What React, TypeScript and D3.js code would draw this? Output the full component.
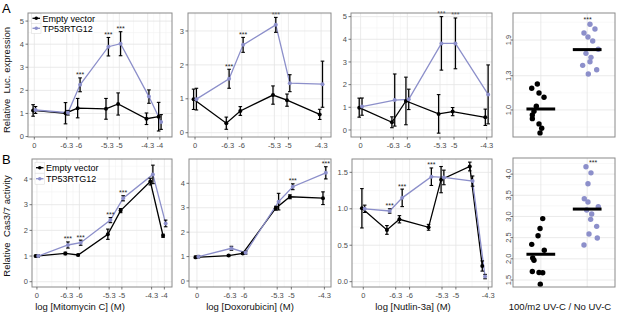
import React from "react";
import * as d3 from "d3";

// ---------------- data ----------------
const seriesNames = ["Empty vector", "TP53RTG12"];
const seriesColors = ["#000000", "#8c8fca"];

const doseTickValues = [0, -6.3, -6, -5.3, -5, -4.3, -4];
const doseTickLabels = ["0", "-6.3", "-6", "-5.3", "-5", "-4.3", "-4"];

const xTitles = ["log [Mitomycin C] (M)", "log [Doxorubicin] (M)", "log [Nutlin-3a] (M)", "100/m2 UV-C / No UV-C"];
const yTitles = ["Relative  Luc. expression", "Relative  Cas3/7 activity"];
const panelLetters = ["A", "B"];

// A1 Mitomycin C / luciferase
const mitoLucDoses = [0, -6.3, -6, -5.3, -5, -4.3, -4];
const mitoLucEmpty = [1.13, 1.01, 1.23, 1.2, 1.41, 0.77, 0.86];
const mitoLucEmptyErr = [0.25, 0.46, 0.42, 0.45, 0.48, 0.25, 0.62];
const mitoLucRtg = [1.15, 1.03, 2.24, 3.89, 4.02, 1.73, 0.63];
const mitoLucRtgErr = [0.15, 0.1, 0.3, 0.4, 0.52, 0.29, 0.32];
const mitoLucSig = ["", "", "***", "***", "***", "", ""];

// A2 Doxorubicin / luciferase
const doxoLucDoses = [0, -6.3, -6, -5.3, -5, -4.3];
const doxoLucEmpty = [0.985, 0.28, 0.64, 1.11, 0.96, 0.54];
const doxoLucEmptyErr = [0.3, 0.18, 0.13, 0.27, 0.18, 0.15];
const doxoLucRtg = [0.99, 1.59, 2.59, 3.18, 1.46, 1.43];
const doxoLucRtgErr = [0.32, 0.28, 0.22, 0.22, 0.25, 0.68];
const doxoLucSig = ["", "***", "***", "***", "", ""];

// A3 Nutlin-3a / luciferase
const nutLucDoses = [0, -6.3, -6, -5.3, -5, -4.3];
const nutLucEmpty = [0.985, 0.34, 1.28, 0.71, 0.81, 0.56];
const nutLucEmptyErr = [0.42, 0.24, 1.05, 0.85, 0.18, 0.36];
const nutLucRtg = [1.03, 1.32, 1.35, 3.82, 3.82, 1.57];
const nutLucRtgErr = [0.38, 1.15, 0.45, 1.18, 1.12, 1.3];
const nutLucSig = ["", "", "", "***", "***", ""];

// A4 UV-C / luciferase (jitter + mean)
const uvLucEmpty = [1.19, 1.227, 1.149, 1.111, 1.032, 0.989, 0.956, 0.924, 0.878, 0.84, 0.799];
const uvLucEmptyJitter = [-0.196, -0.075, -0.039, 0.069, -0.097, -0.147, -0.183, -0.183, -0.039, 0.019, -0.017];
const uvLucRtg = [2.164, 2.085, 2.018, 1.95, 1.883, 1.744, 1.676, 1.609, 1.535, 1.475, 1.401, 1.329];
const uvLucRtgJitter = [0.06, 0.168, -0.069, 0.017, 0.119, 0.239, -0.026, 0.082, 0.06, -0.097, 0.205, 0.024];
const uvLucTicks = [1.0, 1.3, 1.9];

// B1 Mitomycin C / caspase
const mitoCasDoses = [0, -6.3, -6, -5.3, -5, -4.3, -4];
const mitoCasEmpty = [1.0, 1.1, 1.04, 1.85, 2.77, 3.9, 1.79];
const mitoCasEmptyErr = [0.03, 0.05, 0.03, 0.2, 0.08, 0.13, 0.06];
const mitoCasRtg = [1.0, 1.43, 1.52, 2.4, 3.25, 4.18, 2.27];
const mitoCasRtgErr = [0.04, 0.12, 0.1, 0.1, 0.1, 0.36, 0.13];
const mitoCasSig = ["", "***", "***", "***", "***", "", ""];

// B2 Doxorubicin / caspase
const doxoCasDoses = [0, -6.3, -6, -5.3, -5, -4.3];
const doxoCasEmpty = [0.97, 1.04, 1.13, 2.98, 3.45, 3.39];
const doxoCasEmptyErr = [0.05, 0.03, 0.04, 0.08, 0.08, 0.26];
const doxoCasRtg = [0.995, 1.34, 1.16, 3.25, 3.86, 4.43];
const doxoCasRtgErr = [0.05, 0.08, 0.06, 0.34, 0.12, 0.25];
const doxoCasSig = ["", "", "", "", "***", "***"];

// B3 Nutlin-3a / caspase
const nutCasDoses = [0, -6.46, -6.19, -5.56, -5.29, -4.67, -4.4];
const nutCasEmpty = [1.007, 0.71, 0.856, 0.746, 1.4, 1.58, 0.215];
const nutCasEmptyErr = [0.27, 0.06, 0.05, 0.04, 0.18, 0.06, 0.07];
const nutCasRtg = [1.0, 0.97, 1.15, 1.44, 1.43, 1.38, 0.07];
const nutCasRtgErr = [0.05, 0.03, 0.12, 0.12, 0.1, 0.07, 0.03];
const nutCasSig = ["", "***", "***", "***", "", "", ""];

// B4 UV-C / caspase
const uvCasEmpty = [2.95, 2.715, 2.545, 2.342, 2.203, 2.019, 1.967, 1.7, 1.677, 1.67, 1.4];
const uvCasEmptyJitter = [0.041, -0.017, -0.06, -0.196, 0.075, -0.175, -0.147, -0.183, -0.039, 0.041, -0.011];
const uvCasRtg = [4.172, 4.03, 3.771, 3.417, 3.34, 3.229, 3.151, 3.057, 2.932, 2.767, 2.585, 2.491, 2.325];
const uvCasRtgJitter = [-0.026, 0.082, 0.017, -0.062, 0.017, 0.239, -0.011, 0.097, 0.075, 0.205, 0.039, 0.218, -0.069];
const uvCasTicks = [1.5, 2.0, 2.5, 3.0, 3.5, 4.0];

// ---------------- styles / layout ----------------
const FONT = "'Liberation Sans', Arial, Helvetica, sans-serif";
const GRID_MAJOR = "#e5e5e5";
const GRID_MINOR = "#f3f3f3";
const BORDER = "#8a8a8a";
const TICK_TEXT = "#4d4d4d";
const DODGE = 0.03;

const linePanels = [
  { key: "A1", x0: 28, x1: 172, y0: 13, y1: 137, xDomain: [-7.256, -3.7], ctrl: -7.1, nTicks: 7,
    yDomain: [-0.02, 5.35], yTicks: [0, 1, 2, 3, 4, 5], yFmt: (v: number) => String(v),
    doses: mitoLucDoses, empty: mitoLucEmpty, emptyErr: mitoLucEmptyErr, rtg: mitoLucRtg, rtgErr: mitoLucRtgErr, sig: mitoLucSig,
    legend: { x: 31.5, y: 18.3, pitch: 10 } },
  { key: "A2", x0: 188, x1: 331, y0: 13, y1: 137, xDomain: [-7.15, -4.088], ctrl: -7.0, nTicks: 6,
    yDomain: [-0.127, 3.53], yTicks: [0, 1, 2, 3], yFmt: (v: number) => String(v),
    doses: doxoLucDoses, empty: doxoLucEmpty, emptyErr: doxoLucEmptyErr, rtg: doxoLucRtg, rtgErr: doxoLucRtgErr, sig: doxoLucSig },
  { key: "A3", x0: 351, x1: 492, y0: 13, y1: 137, xDomain: [-7.206, -4.187], ctrl: -7.0, nTicks: 6,
    yDomain: [-0.31, 5.16], yTicks: [0, 1, 2, 3, 4, 5], yFmt: (v: number) => String(v),
    doses: nutLucDoses, empty: nutLucEmpty, emptyErr: nutLucEmptyErr, rtg: nutLucRtg, rtgErr: nutLucRtgErr, sig: nutLucSig },
  { key: "B1", x0: 32, x1: 172, y0: 159, y1: 287, xDomain: [-7.116, -3.82], ctrl: -7.0, nTicks: 7,
    yDomain: [-0.206, 4.78], yTicks: [0, 1, 2, 3, 4], yFmt: (v: number) => String(v),
    doses: mitoCasDoses, empty: mitoCasEmpty, emptyErr: mitoCasEmptyErr, rtg: mitoCasRtg, rtgErr: mitoCasRtgErr, sig: mitoCasSig,
    legend: { x: 35, y: 167.7, pitch: 11 } },
  { key: "B2", x0: 189, x1: 331, y0: 159, y1: 287, xDomain: [-7.169, -4.16], ctrl: -7.0, nTicks: 6,
    yDomain: [-0.246, 4.996], yTicks: [0, 1, 2, 3, 4], yFmt: (v: number) => String(v),
    doses: doxoCasDoses, empty: doxoCasEmpty, emptyErr: doxoCasEmptyErr, rtg: doxoCasRtg, rtgErr: doxoCasRtgErr, sig: doxoCasSig },
  { key: "B3", x0: 352, x1: 492, y0: 159, y1: 287, xDomain: [-7.244, -4.22], ctrl: -7.0, nTicks: 6,
    yDomain: [-0.073, 1.683], yTicks: [0, 0.5, 1, 1.5], yFmt: (v: number) => v.toFixed(1),
    doses: nutCasDoses, empty: nutCasEmpty, emptyErr: nutCasEmptyErr, rtg: nutCasRtg, rtgErr: nutCasRtgErr, sig: nutCasSig },
];

const jitterPanels = [
  { key: "A4", x0: 513, x1: 615, y0: 13, y1: 137, yDomain: uvLucTicks, yFrac: [0.218, 0.494, 0.782],
    yTicks: uvLucTicks, empty: uvLucEmpty, emptyJit: uvLucEmptyJitter, rtg: uvLucRtg, rtgJit: uvLucRtgJitter, starDx: 0.01 },
  { key: "B4", x0: 513, x1: 615, y0: 158, y1: 287, yDomain: [1.335, 4.38], yFrac: [0, 1],
    yTicks: uvCasTicks, empty: uvCasEmpty, emptyJit: uvCasEmptyJitter, rtg: uvCasRtg, rtgJit: uvCasRtgJitter, starDx: 0.13 },
];

const xTitlePos = [{ x: 80, y: 309.5 }, { x: 250, y: 309.5 }, { x: 413, y: 309.5 }, { x: 560, y: 309.5 }];
const yTitlePos = [{ x: 10, y: 80 }, { x: 10, y: 226 }];
const letterPos = [{ x: 2, y: 13 }, { x: 2, y: 163.5 }];

function minorBreaks(major: number[], lo: number, hi: number) {
  const s = [...major].sort((a, b) => a - b);
  const out: number[] = [];
  for (let i = 0; i < s.length - 1; i++) out.push((s[i] + s[i + 1]) / 2);
  if (s.length > 1) {
    const first = s[0] - (s[1] - s[0]) / 2;
    const last = s[s.length - 1] + (s[s.length - 1] - s[s.length - 2]) / 2;
    if (first >= Math.min(lo, hi)) out.push(first);
    if (last <= Math.max(lo, hi)) out.push(last);
  }
  return out;
}

function LinePanel({ p }: { p: any }) {
  const x = d3.scaleLinear().domain(p.xDomain).range([p.x0, p.x1]);
  const y = d3.scaleLinear().domain(p.yDomain).range([p.y1, p.y0]);
  const xv = (d: number) => (d === 0 ? p.ctrl : d);
  const tickVals = doseTickValues.slice(0, p.nTicks).map(xv);
  const tickLabs = doseTickLabels.slice(0, p.nTicks);
  const xMinor = minorBreaks(tickVals, p.xDomain[0], p.xDomain[1]);
  const yMinor = minorBreaks(p.yTicks, p.yDomain[0], p.yDomain[1]);
  const series = [
    { vals: p.empty, errs: p.emptyErr, color: seriesColors[0], dx: -DODGE },
    { vals: p.rtg, errs: p.rtgErr, color: seriesColors[1], dx: DODGE },
  ];
  const line = d3.line<[number, number]>().x((d) => d[0]).y((d) => d[1]);
  const cap = 1.8;
  return (
    <g>
      <rect x={p.x0} y={p.y0} width={p.x1 - p.x0} height={p.y1 - p.y0} fill="#fff" />
      {xMinor.map((v, i) => (
        <line key={"xm" + i} x1={x(v)} x2={x(v)} y1={p.y0} y2={p.y1} stroke={GRID_MINOR} strokeWidth={0.6} />
      ))}
      {yMinor.map((v, i) => (
        <line key={"ym" + i} x1={p.x0} x2={p.x1} y1={y(v)} y2={y(v)} stroke={GRID_MINOR} strokeWidth={0.6} />
      ))}
      {tickVals.map((v, i) => (
        <line key={"xg" + i} x1={x(v)} x2={x(v)} y1={p.y0} y2={p.y1} stroke={GRID_MAJOR} strokeWidth={0.8} />
      ))}
      {p.yTicks.map((v: number, i: number) => (
        <line key={"yg" + i} x1={p.x0} x2={p.x1} y1={y(v)} y2={y(v)} stroke={GRID_MAJOR} strokeWidth={0.8} />
      ))}
      {series.map((s, si) => {
        const pts: [number, number][] = p.doses.map((d: number, i: number) => [x(xv(d) + s.dx), y(s.vals[i])]);
        return (
          <g key={"s" + si}>
            <path d={line(pts) || ""} fill="none" stroke={s.color} strokeWidth={1.3} />
          </g>
        );
      })}
      {series.map((s, si) => (
        <g key={"e" + si}>
          {p.doses.map((d: number, i: number) => {
            const cx = x(xv(d) + s.dx);
            const yt = y(s.vals[i] + s.errs[i]);
            const yb = y(s.vals[i] - s.errs[i]);
            return (
              <g key={i}>
                <line x1={cx} x2={cx} y1={yt} y2={yb} stroke="#000" strokeWidth={1.3} />
                <line x1={cx - cap} x2={cx + cap} y1={yt} y2={yt} stroke="#000" strokeWidth={1.1} />
                <line x1={cx - cap} x2={cx + cap} y1={yb} y2={yb} stroke="#000" strokeWidth={1.1} />
              </g>
            );
          })}
        </g>
      ))}
      {series.map((s, si) => (
        <g key={"p" + si}>
          {p.doses.map((d: number, i: number) => (
            <circle key={i} cx={x(xv(d) + s.dx)} cy={y(s.vals[i])} r={2} fill={s.color} />
          ))}
        </g>
      ))}
      {p.sig.map((t: string, i: number) =>
        t ? (
          <text key={"sig" + i} x={x(xv(p.doses[i]) + DODGE)} y={y(p.rtg[i] + p.rtgErr[i]) - 0.5}
            fontSize={7} textAnchor="middle" fill="#222">{t}</text>
        ) : null
      )}
      {p.legend ? (
        <g>
          <rect x={p.legend.x} y={p.legend.y - 5} width={62} height={p.legend.pitch + 10} fill="#fff" />
          {seriesNames.map((n, i) => {
            const cy = p.legend.y + i * p.legend.pitch;
            return (
              <g key={n}>
                <rect x={p.legend.x} y={cy - p.legend.pitch / 2} width={9.5} height={p.legend.pitch} fill="#fff" stroke="#d6d6d6" strokeWidth={0.5} />
                <line x1={p.legend.x + 1} x2={p.legend.x + 8.5} y1={cy} y2={cy} stroke={seriesColors[i]} strokeWidth={1.3} />
                <circle cx={p.legend.x + 4.75} cy={cy} r={1.8} fill={seriesColors[i]} />
                <text x={p.legend.x + 11} y={cy + 3.2} fontSize={9} fill="#000">{n}</text>
              </g>
            );
          })}
        </g>
      ) : null}
      <rect x={p.x0} y={p.y0} width={p.x1 - p.x0} height={p.y1 - p.y0} fill="none" stroke={BORDER} strokeWidth={1} />
      {tickVals.map((v, i) => (
        <g key={"xt" + i}>
          <line x1={x(v)} x2={x(v)} y1={p.y1} y2={p.y1 + 2.5} stroke="#555" strokeWidth={0.8} />
          <text x={x(v)} y={p.y1 + 11} fontSize={7.5} textAnchor="middle" fill={TICK_TEXT}>{tickLabs[i]}</text>
        </g>
      ))}
      {p.yTicks.map((v: number, i: number) => (
        <g key={"yt" + i}>
          <line x1={p.x0 - 2.5} x2={p.x0} y1={y(v)} y2={y(v)} stroke="#555" strokeWidth={0.8} />
          <text x={p.x0 - 4} y={y(v)} dy="0.35em" fontSize={7.5} textAnchor="end" fill={TICK_TEXT}>{p.yFmt(v)}</text>
        </g>
      ))}
    </g>
  );
}

function JitterPanel({ p }: { p: any }) {
  const x = d3.scaleLinear().domain([0.4, 2.6]).range([p.x0, p.x1]);
  const h = p.y1 - p.y0;
  const y = d3.scaleLinear().domain(p.yDomain).range(p.yFrac.map((f: number) => p.y1 - f * h));
  const lo = y.invert(p.y1);
  const hi = y.invert(p.y0);
  const yMinor = minorBreaks(p.yTicks, lo, hi);
  const groups = [
    { vals: p.empty, jit: p.emptyJit, color: seriesColors[0], cat: 1 },
    { vals: p.rtg, jit: p.rtgJit, color: seriesColors[1], cat: 2 },
  ];
  const maxR = d3.max(p.rtg as number[]) as number;
  return (
    <g>
      <rect x={p.x0} y={p.y0} width={p.x1 - p.x0} height={h} fill="#fff" />
      {yMinor.map((v, i) => (
        <line key={"ym" + i} x1={p.x0} x2={p.x1} y1={y(v)} y2={y(v)} stroke={GRID_MINOR} strokeWidth={0.6} />
      ))}
      {p.yTicks.map((v: number, i: number) => (
        <line key={"yg" + i} x1={p.x0} x2={p.x1} y1={y(v)} y2={y(v)} stroke={GRID_MAJOR} strokeWidth={0.8} />
      ))}
      {groups.map((g) => (
        <line key={"xg" + g.cat} x1={x(g.cat)} x2={x(g.cat)} y1={p.y0} y2={p.y1} stroke={GRID_MAJOR} strokeWidth={0.8} />
      ))}
      {groups.map((g) => (
        <g key={"pts" + g.cat}>
          {g.vals.map((v: number, i: number) => (
            <circle key={i} cx={x(g.cat + g.jit[i])} cy={y(v)} r={2.7} fill={g.color} />
          ))}
        </g>
      ))}
      {groups.map((g) => {
        const m = d3.mean(g.vals as number[]) as number;
        return (
          <line key={"m" + g.cat} x1={x(g.cat - 0.31)} x2={x(g.cat + 0.31)} y1={y(m)} y2={y(m)} stroke="#000" strokeWidth={3} />
        );
      })}
      <text x={x(2 + p.starDx)} y={y(maxR) - 2} fontSize={7} textAnchor="middle" fill="#222">***</text>
      <rect x={p.x0} y={p.y0} width={p.x1 - p.x0} height={h} fill="none" stroke={BORDER} strokeWidth={1} />
      {p.yTicks.map((v: number, i: number) => (
        <g key={"yt" + i}>
          <line x1={p.x0 - 2} x2={p.x0} y1={y(v)} y2={y(v)} stroke="#555" strokeWidth={0.8} />
          <text transform={`translate(${p.x0 - 2.5},${y(v)}) rotate(-90)`} fontSize={7.5} textAnchor="middle" fill={TICK_TEXT}>
            {v.toFixed(1)}
          </text>
        </g>
      ))}
    </g>
  );
}

export default function App() {
  return (
    <svg width={617} height={314} style={{ position: "absolute", left: 0, top: 0, display: "block" }} fontFamily={FONT}>
      <rect width={617} height={314} fill="#fff" />
      {linePanels.map((p) => <LinePanel key={p.key} p={p} />)}
      {jitterPanels.map((p) => <JitterPanel key={p.key} p={p} />)}
      {xTitles.map((t, i) => (
        <text key={t} x={xTitlePos[i].x} y={xTitlePos[i].y} fontSize={9.5} textAnchor="middle" fill="#111">{t}</text>
      ))}
      {yTitles.map((t, i) => (
        <text key={t} transform={`translate(${yTitlePos[i].x},${yTitlePos[i].y}) rotate(-90)`} fontSize={9.5}
          textAnchor="middle" fill="#111" style={{ whiteSpace: "pre" }}>{t}</text>
      ))}
      {panelLetters.map((t, i) => (
        <text key={t} x={letterPos[i].x} y={letterPos[i].y} fontSize={13} fill="#000">{t}</text>
      ))}
    </svg>
  );
}
